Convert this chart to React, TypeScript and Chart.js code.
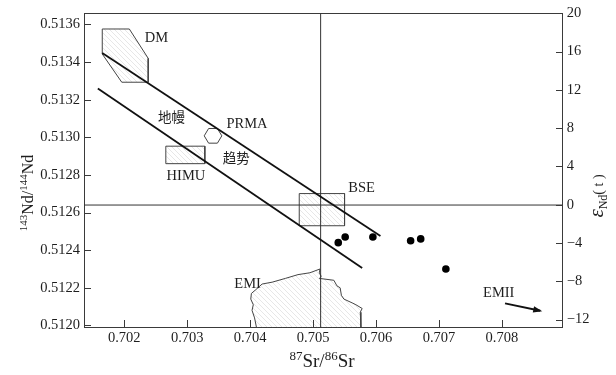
import { useEffect, useRef } from "react";
import { Chart, registerables } from "chart.js";

Chart.register(...registerables);

// Axis ranges and ticks
const srMin = 0.70136;
const srMax = 0.70896;
const ndMin = 0.51199;
const ndMax = 0.51366;
const epsMin = -12.8;
const epsMax = 20;
const srTicks = [0.702, 0.703, 0.704, 0.705, 0.706, 0.707, 0.708];
const ndTicks = [0.512, 0.5122, 0.5124, 0.5126, 0.5128, 0.513, 0.5132, 0.5134, 0.5136];
const epsTicks = [-12, -8, -4, 0, 4, 8, 12, 16, 20];

// Reference values (CHUR Nd ratio and bulk-earth Sr ratio)
const churNd = 0.51264;
const bulkSr = 0.70512;

// Samples
const sampleSr = [0.7054, 0.70551, 0.70595, 0.70655, 0.70671, 0.70711];
const sampleNd = [0.51244, 0.51247, 0.51247, 0.51245, 0.51246, 0.5123];

// Mantle array bounding lines
const arrayUpperSr = [0.70165, 0.70607];
const arrayUpperNd = [0.513448, 0.512476];
const arrayLowerSr = [0.70158, 0.70578];
const arrayLowerNd = [0.51326, 0.512305];

// Reservoir fields (closed outlines)
const dmSr = [0.70165, 0.70208, 0.70238, 0.70238, 0.70196, 0.70165, 0.70165];
const dmNd = [0.513576, 0.513576, 0.51342, 0.513293, 0.513293, 0.513443, 0.513576];
const prmaSr = [0.70334, 0.70348, 0.70355, 0.70348, 0.70334, 0.70327, 0.70334];
const prmaNd = [0.513047, 0.513047, 0.513008, 0.512969, 0.512969, 0.513008, 0.513047];
const himuSr = [0.70266, 0.70328, 0.70328, 0.70266, 0.70266];
const himuNd = [0.512953, 0.512953, 0.51286, 0.51286, 0.512953];
const bseSr = [0.70478, 0.7055, 0.7055, 0.70478, 0.70478];
const bseNd = [0.512701, 0.512701, 0.51253, 0.51253, 0.512701];
const emiSr = [
  0.7041, 0.70407, 0.70403, 0.70405, 0.70401, 0.70402, 0.70409, 0.70419, 0.70435,
  0.70456, 0.70476, 0.70495, 0.70511, 0.7051, 0.70513, 0.7051, 0.70533, 0.70538,
  0.70543, 0.70545, 0.70549, 0.70562, 0.70568, 0.70578, 0.70575, 0.70576, 0.70576,
];
const emiNd = [
  0.51199, 0.51204, 0.51208, 0.51211, 0.51214, 0.51217, 0.51219, 0.51222, 0.51223,
  0.51225, 0.51227, 0.51228, 0.5123, 0.51228, 0.51226, 0.51225, 0.51224, 0.51221,
  0.5122, 0.51216, 0.51214, 0.51212, 0.51211, 0.51209, 0.51207, 0.51203, 0.51199,
];

// EMII direction arrow
const emiiSr = [0.70805, 0.70861];
const emiiNd = [0.512117, 0.512078];

// Field labels
const labelText = ["DM", "地幔", "PRMA", "趋势", "HIMU", "BSE", "EMI", "EMII"];
const labelSr = [0.70251, 0.70275, 0.70395, 0.70378, 0.70298, 0.70577, 0.70396, 0.70795];
const labelNd = [0.513525, 0.513107, 0.513072, 0.512892, 0.512793, 0.512727, 0.51222, 0.51217];

const serif = '"Liberation Serif", "Times New Roman", serif';
const cjk = '"Noto Sans CJK SC", "Noto Sans CJK JP", sans-serif';
const ink = "#1e1e1e";
const axisInk = "#3a3a3a";

const pts = (xs: number[], ys: number[]) => xs.map((x, i) => ({ x, y: ys[i] }));

function makeHatch(ctx: CanvasRenderingContext2D): CanvasPattern | string {
  const c = document.createElement("canvas");
  c.width = 5;
  c.height = 5;
  const g = c.getContext("2d");
  if (!g) return "#f2f2f2";
  g.strokeStyle = "#d6d6d6";
  g.lineWidth = 0.6;
  g.beginPath();
  g.moveTo(0, 0);
  g.lineTo(5, 5);
  g.moveTo(-1, 4);
  g.lineTo(1, 6);
  g.moveTo(4, -1);
  g.lineTo(6, 1);
  g.stroke();
  return ctx.createPattern(c, "repeat") ?? "#f2f2f2";
}

type Run = { t: string; size: number; dy?: number; italic?: boolean };

function drawRuns(
  ctx: CanvasRenderingContext2D,
  runs: Run[],
  x: number,
  y: number,
  angle: number
) {
  ctx.save();
  ctx.translate(x, y);
  ctx.rotate(angle);
  ctx.fillStyle = ink;
  ctx.textBaseline = "alphabetic";
  ctx.textAlign = "left";
  const fontOf = (r: Run) => `${r.italic ? "italic " : ""}${r.size}px ${serif}`;
  const widths = runs.map((r) => {
    ctx.font = fontOf(r);
    return ctx.measureText(r.t).width;
  });
  const total = widths.reduce((a, b) => a + b, 0);
  let cx = -total / 2;
  runs.forEach((r, i) => {
    ctx.font = fontOf(r);
    ctx.fillText(r.t, cx, r.dy ?? 0);
    cx += widths[i];
  });
  ctx.restore();
}

const decorations = {
  id: "decorations",
  beforeDatasetsDraw(chart: any) {
    const { ctx, chartArea } = chart;
    ctx.save();
    ctx.strokeStyle = axisInk;
    ctx.lineWidth = 1;
    ctx.strokeRect(
      Math.round(chartArea.left) + 0.5,
      Math.round(chartArea.top) + 0.5,
      Math.round(chartArea.right) - Math.round(chartArea.left),
      Math.round(chartArea.bottom) - Math.round(chartArea.top)
    );
    ctx.restore();
  },
  afterDraw(chart: any) {
    const { ctx, chartArea, scales } = chart;
    const sx = scales.x;
    const sy = scales.y;
    const se = scales.y2;
    ctx.save();
    // inward tick marks
    ctx.strokeStyle = axisInk;
    ctx.lineWidth = 1;
    ctx.beginPath();
    const bottom = Math.round(chartArea.bottom);
    const left = Math.round(chartArea.left);
    const right = Math.round(chartArea.right);
    srTicks.forEach((v) => {
      const px = Math.round(sx.getPixelForValue(v)) + 0.5;
      ctx.moveTo(px, bottom);
      ctx.lineTo(px, bottom - 7);
    });
    ndTicks.forEach((v) => {
      const py = Math.round(sy.getPixelForValue(v)) + 0.5;
      ctx.moveTo(left, py);
      ctx.lineTo(left + 7, py);
    });
    epsTicks.forEach((v) => {
      const py = Math.round(se.getPixelForValue(v)) + 0.5;
      ctx.moveTo(right, py);
      ctx.lineTo(right - 6, py);
    });
    ctx.stroke();

    // EMII arrowhead
    const arrow = chart.getDatasetMeta(1).data;
    if (arrow.length > 1) {
      const a = arrow[0];
      const b = arrow[arrow.length - 1];
      const ang = Math.atan2(b.y - a.y, b.x - a.x);
      ctx.save();
      ctx.translate(b.x, b.y);
      ctx.rotate(ang);
      ctx.fillStyle = "#111";
      ctx.beginPath();
      ctx.moveTo(2, 0);
      ctx.lineTo(-7, -3.2);
      ctx.lineTo(-7, 3.2);
      ctx.closePath();
      ctx.fill();
      ctx.restore();
    }

    // field labels
    ctx.fillStyle = ink;
    ctx.textAlign = "center";
    ctx.textBaseline = "middle";
    labelText.forEach((t, i) => {
      const isCjk = /[\u4e00-\u9fff]/.test(t);
      ctx.font = isCjk ? `13.5px ${cjk}` : `14.5px ${serif}`;
      ctx.fillText(t, sx.getPixelForValue(labelSr[i]), sy.getPixelForValue(labelNd[i]));
    });

    // axis titles
    drawRuns(
      ctx,
      [
        { t: "143", size: 11, dy: -6 },
        { t: "Nd/", size: 16 },
        { t: "144", size: 11, dy: -6 },
        { t: "Nd", size: 16 },
      ],
      33,
      193,
      -Math.PI / 2
    );
    drawRuns(
      ctx,
      [
        { t: "87", size: 13, dy: -7 },
        { t: "Sr/", size: 19 },
        { t: "86", size: 13, dy: -7 },
        { t: "Sr", size: 19 },
      ],
      322,
      367,
      0
    );
    drawRuns(
      ctx,
      [
        { t: "ε", size: 21, italic: true },
        { t: "Nd", size: 12, dy: 4 },
        { t: "( t )", size: 14 },
      ],
      603,
      196,
      -Math.PI / 2
    );
    ctx.restore();
  },
};

export default function App() {
  const ref = useRef<HTMLCanvasElement>(null);

  useEffect(() => {
    const canvas = ref.current;
    if (!canvas) return;
    const ctx = canvas.getContext("2d");
    if (!ctx) return;
    const hatch = makeHatch(ctx);

    const field = (data: { x: number; y: number }[], filled: boolean, order: number) => ({
      data,
      showLine: true,
      fill: filled ? "shape" : false,
      backgroundColor: filled ? hatch : "rgba(0,0,0,0)",
      borderColor: "#444",
      borderWidth: 1,
      pointRadius: 0,
      tension: 0,
      order,
    });
    const rule = (data: { x: number; y: number }[], width: number, color: string, order: number) => ({
      data,
      showLine: true,
      fill: false,
      borderColor: color,
      borderWidth: width,
      pointRadius: 0,
      tension: 0,
      order,
    });

    const chart = new Chart(canvas, {
      type: "line",
      data: {
        datasets: [
          {
            data: pts(sampleSr, sampleNd),
            showLine: false,
            pointRadius: 3.8,
            pointBackgroundColor: "#000",
            pointBorderColor: "#000",
            pointBorderWidth: 0,
            order: 0,
          },
          rule(pts(emiiSr, emiiNd), 1.8, "#111", 1),
          rule(pts(arrayUpperSr, arrayUpperNd), 1.8, "#111", 1),
          rule(pts(arrayLowerSr, arrayLowerNd), 1.8, "#111", 1),
          rule(pts([srMin, srMax], [churNd, churNd]), 1, "#333", 2),
          rule(pts([bulkSr, bulkSr], [ndMin, ndMax]), 1, "#333", 2),
          field(pts(dmSr, dmNd), true, 3),
          field(pts(prmaSr, prmaNd), false, 3),
          field(pts(himuSr, himuNd), true, 3),
          field(pts(bseSr, bseNd), true, 3),
          field(pts(emiSr, emiNd), true, 3),
        ] as any,
      },
      options: {
        responsive: false,
        animation: false,
        events: [],
        layout: { padding: { top: 12, left: 0, right: 0, bottom: 0 } },
        plugins: {
          legend: { display: false },
          tooltip: { enabled: false },
        },
        scales: {
          x: {
            type: "linear",
            min: srMin,
            max: srMax,
            afterBuildTicks: (s: any) => {
              s.ticks = srTicks.map((value) => ({ value }));
            },
            afterFit: (s: any) => {
              s.height = 47.7;
            },
            ticks: {
              callback: (v: any) => Number(v).toFixed(3),
              font: { family: serif, size: 14.5 },
              color: ink,
              padding: 2,
              maxRotation: 0,
              autoSkip: false,
            },
            grid: { display: false, drawTicks: false },
            border: { display: true, color: axisInk, width: 1 },
          },
          y: {
            type: "linear",
            position: "left",
            min: ndMin,
            max: ndMax,
            afterBuildTicks: (s: any) => {
              s.ticks = ndTicks.map((value) => ({ value }));
            },
            afterFit: (s: any) => {
              s.width = 84;
            },
            ticks: {
              callback: (v: any) => Number(v).toFixed(4),
              font: { family: serif, size: 14.5 },
              color: ink,
              padding: 4,
              autoSkip: false,
            },
            grid: { display: false, drawTicks: false },
            border: { display: true, color: axisInk, width: 1 },
          },
          y2: {
            type: "linear",
            position: "right",
            min: epsMin,
            max: epsMax,
            afterBuildTicks: (s: any) => {
              s.ticks = epsTicks.map((value) => ({ value }));
            },
            afterFit: (s: any) => {
              s.width = 53.7;
            },
            ticks: {
              callback: (v: any) => (Number(v) < 0 ? "\u2212" + Math.abs(Number(v)) : String(v)),
              font: { family: serif, size: 14.5 },
              color: ink,
              padding: 4.5,
              autoSkip: false,
            },
            grid: { display: false, drawTicks: false },
            border: { display: true, color: axisInk, width: 1 },
          },
        },
      } as any,
      plugins: [decorations],
    });

    return () => chart.destroy();
  }, []);

  return (
    <div style={{ position: "fixed", left: 0, top: 0, width: 616, height: 375, background: "#fff" }}>
      <canvas ref={ref} width={616} height={375} style={{ display: "block" }} />
    </div>
  );
}
